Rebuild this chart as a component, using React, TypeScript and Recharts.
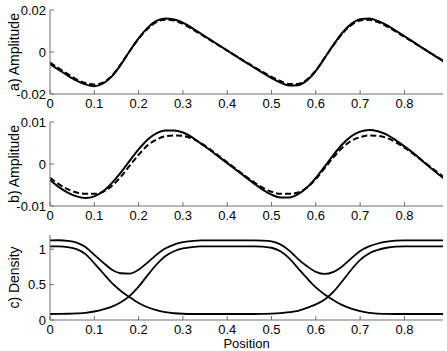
import { LineChart, Line, XAxis, YAxis } from 'recharts';

// sample positions along the domain
const position = [
  0, 0.02, 0.04, 0.06, 0.08, 0.1, 0.12, 0.14, 0.16, 0.18,
  0.2, 0.22, 0.24, 0.26, 0.28, 0.3, 0.32, 0.34, 0.36, 0.38,
  0.4, 0.42, 0.44, 0.46, 0.48, 0.5, 0.52, 0.54, 0.56, 0.58,
  0.6, 0.62, 0.64, 0.66, 0.68, 0.7, 0.72, 0.74, 0.76, 0.78,
  0.8, 0.82, 0.84, 0.86, 0.88, 0.9,
];

// a) amplitude
const ampASolid = [
  -0.0058, -0.0085, -0.0112, -0.0136, -0.0154, -0.0163, -0.015, -0.0115, -0.006, 0.0005,
  0.0065, 0.0115, 0.0148, 0.016, 0.0155, 0.014, 0.0115, 0.0088, 0.0061, 0.0034,
  0.0007, -0.002, -0.0047, -0.0073, -0.0099, -0.0124, -0.0146, -0.016, -0.0158, -0.0135,
  -0.009, -0.0028, 0.0035, 0.0092, 0.0134, 0.0156, 0.0159, 0.0148, 0.0128, 0.0102,
  0.0075, 0.0048, 0.002, -0.0007, -0.0034, -0.006,
];
const ampADashed = [
  -0.005, -0.0078, -0.0105, -0.013, -0.0148, -0.0155, -0.0145, -0.0112, -0.0058, 0.0005,
  0.0063, 0.011, 0.0142, 0.0154, 0.015, 0.0134, 0.011, 0.0085, 0.0059, 0.0033,
  0.0007, -0.0019, -0.0045, -0.007, -0.0095, -0.0118, -0.0138, -0.0152, -0.0152, -0.0131,
  -0.0088, -0.0028, 0.0033, 0.0088, 0.0128, 0.015, 0.0153, 0.0142, 0.0122, 0.0098,
  0.0072, 0.0046, 0.002, -0.0006, -0.0032, -0.0057,
];

// b) amplitude
const ampBSolid = [
  -0.0038, -0.0055, -0.0068, -0.0077, -0.0081, -0.0077, -0.0065, -0.0045, -0.002, 0.0008,
  0.0035, 0.0058, 0.0073, 0.008, 0.008, 0.0075, 0.0064, 0.0049, 0.0034, 0.0018,
  0.0002, -0.0014, -0.003, -0.0046, -0.0061, -0.0073, -0.008, -0.008, -0.0072, -0.0056,
  -0.0033, -0.0006, 0.0022, 0.0047, 0.0066, 0.0077, 0.0081, 0.0078, 0.007, 0.0057,
  0.0042, 0.0026, 0.0008, -0.001, -0.0027, -0.0044,
];
const ampBDashed = [
  -0.0033, -0.0048, -0.006, -0.0068, -0.0071, -0.0071, -0.0066, -0.0052, -0.003, -0.0004,
  0.0022, 0.0044, 0.0058, 0.0066, 0.0068, 0.0067, 0.0061, 0.005, 0.0036, 0.002,
  0.0004, -0.0012, -0.0028, -0.0043, -0.0056, -0.0066, -0.0071, -0.0071, -0.0068, -0.0056,
  -0.0036, -0.001, 0.0016, 0.0039, 0.0055, 0.0064, 0.0068, 0.0067, 0.0062, 0.0052,
  0.0039, 0.0024, 0.0008, -0.0008, -0.0024, -0.004,
];

// c) density
const densityA = [
  1.04, 1.04, 1.03, 1.0, 0.93, 0.8, 0.66, 0.52, 0.41, 0.32,
  0.24, 0.18, 0.14, 0.11, 0.095, 0.088, 0.085, 0.085, 0.085, 0.085,
  0.085, 0.085, 0.085, 0.085, 0.087, 0.09, 0.097, 0.11, 0.13, 0.17,
  0.22, 0.29, 0.4, 0.55, 0.71, 0.85, 0.94, 0.99, 1.02, 1.035,
  1.04, 1.04, 1.04, 1.04, 1.04, 1.04,
];
const densityB = [
  0.085, 0.086, 0.088, 0.093, 0.1, 0.12, 0.15, 0.19, 0.25, 0.34,
  0.47, 0.63, 0.78, 0.9, 0.97, 1.01, 1.03, 1.04, 1.04, 1.04,
  1.04, 1.04, 1.04, 1.04, 1.035, 1.02, 0.97, 0.87, 0.73, 0.59,
  0.46, 0.36, 0.28, 0.21, 0.16, 0.125, 0.1, 0.09, 0.086, 0.085,
  0.085, 0.085, 0.085, 0.085, 0.085, 0.085,
];
const densityTotal = [
  1.125, 1.126, 1.118, 1.093, 1.03, 0.92, 0.81, 0.71, 0.66, 0.655,
  0.71, 0.81, 0.92, 1.01, 1.065, 1.098, 1.115, 1.125, 1.125, 1.125,
  1.125, 1.125, 1.125, 1.125, 1.122, 1.11, 1.067, 0.98, 0.86, 0.76,
  0.68, 0.65, 0.68, 0.76, 0.87, 0.975, 1.04, 1.08, 1.106, 1.12,
  1.125, 1.125, 1.125, 1.125, 1.125, 1.125,
];

const xTicks = [0, 0.1, 0.2, 0.3, 0.4, 0.5, 0.6, 0.7, 0.8];
const ampATicks = [-0.02, 0, 0.02];
const ampBTicks = [-0.01, 0, 0.01];
const densityTicks = [0, 0.5, 1];

const X_MAX = 0.887;
const FONT = '"Liberation Sans", Arial, Helvetica, sans-serif';
const FRAME = '#6e6e6e';
const W = 447;

const rows = position.map((x, i) => ({
  x,
  aSolid: ampASolid[i],
  aDashed: ampADashed[i],
  bSolid: ampBSolid[i],
  bDashed: ampBDashed[i],
  dA: densityA[i],
  dB: densityB[i],
  dTotal: densityTotal[i],
}));

const fmt = (v: number) => (v < 0 ? '-' + String(-v) : String(v));

const tickStyle = { fill: '#000', fontSize: 13, fontFamily: FONT };

const sideLabel = (text: string, cy: number) => () => (
  <text
    x={14}
    y={cy}
    transform={`rotate(-90 14 ${cy})`}
    textAnchor="middle"
    dominantBaseline="central"
    fontSize={14}
    fontFamily={FONT}
    fill="#000"
  >
    {text}
  </text>
);

const bottomLabel = () => (
  <text x={246.5} y={118} textAnchor="middle" dominantBaseline="central" fontSize={13} fontFamily={FONT} fill="#000">
    Position
  </text>
);

interface SeriesDef {
  key: string;
  dash?: string;
  width: number;
}

interface PanelProps {
  top: number;
  height: number;
  bottom: number;
  xHeight: number;
  yDomain: [number, number];
  yTicks: number[];
  label: string;
  series: SeriesDef[];
  showPosition?: boolean;
}

const Panel = ({ top, height, bottom, xHeight, yDomain, yTicks, label, series, showPosition }: PanelProps) => {
  const plotH = height - 10 - bottom - xHeight;
  return (
    <div style={{ position: 'absolute', left: 0, top }}>
      <LineChart width={W} height={height} data={rows} margin={{ top: 10, right: 4, bottom, left: 0 }}>
        <XAxis
          xAxisId="x"
          dataKey="x"
          type="number"
          domain={[0, X_MAX]}
          allowDataOverflow
          ticks={xTicks}
          interval={0}
          height={xHeight}
          tickSize={-4}
          tickMargin={9}
          stroke={FRAME}
          tick={tickStyle}
          tickFormatter={fmt}
          label={showPosition ? bottomLabel : undefined}
        />
        <XAxis
          xAxisId="top"
          orientation="top"
          type="number"
          domain={[0, X_MAX]}
          allowDataOverflow
          ticks={xTicks}
          interval={0}
          height={0}
          tickSize={-4}
          tick={false}
          stroke={FRAME}
        />
        <YAxis
          yAxisId="y"
          type="number"
          domain={yDomain}
          allowDataOverflow
          ticks={yTicks}
          interval={0}
          width={50}
          tickSize={-4}
          tickMargin={8}
          stroke={FRAME}
          tick={tickStyle}
          tickFormatter={fmt}
          label={sideLabel(label, 10 + plotH / 2)}
        />
        <YAxis
          yAxisId="right"
          orientation="right"
          type="number"
          domain={yDomain}
          allowDataOverflow
          ticks={yTicks}
          interval={0}
          width={0}
          tickSize={-4}
          tick={false}
          stroke={FRAME}
        />
        {series.map((s) => (
          <Line
            key={s.key}
            xAxisId="x"
            yAxisId="y"
            dataKey={s.key}
            type="monotone"
            stroke="#000"
            strokeWidth={s.width}
            strokeDasharray={s.dash}
            dot={false}
            isAnimationActive={false}
          />
        ))}
      </LineChart>
    </div>
  );
};

export default function App() {
  return (
    <div style={{ position: 'absolute', left: 0, top: 0, width: W, height: 351, background: '#fff', fontFamily: FONT }}>
      <Panel
        top={0}
        height={120}
        bottom={6}
        xHeight={20}
        yDomain={[-0.02, 0.02]}
        yTicks={ampATicks}
        label="a) Amplitude"
        series={[
          { key: 'aDashed', dash: '6 3', width: 2 },
          { key: 'aSolid', width: 2 },
        ]}
      />
      <Panel
        top={112}
        height={120}
        bottom={6}
        xHeight={20}
        yDomain={[-0.01, 0.01]}
        yTicks={ampBTicks}
        label="b) Amplitude"
        series={[
          { key: 'bDashed', dash: '6 3', width: 2 },
          { key: 'bSolid', width: 2 },
        ]}
      />
      <Panel
        top={225}
        height={126}
        bottom={0}
        xHeight={31}
        yDomain={[0, 1.2]}
        yTicks={densityTicks}
        label="c) Density"
        showPosition
        series={[
          { key: 'dTotal', width: 1.8 },
          { key: 'dA', width: 1.8 },
          { key: 'dB', width: 1.8 },
        ]}
      />
    </div>
  );
}
